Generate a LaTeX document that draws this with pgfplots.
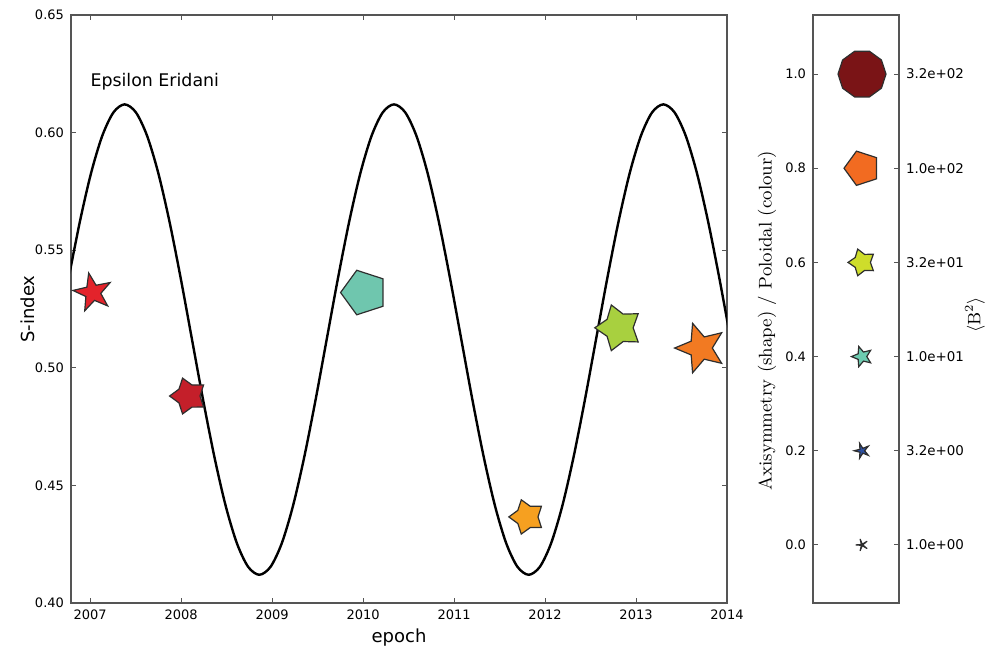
\documentclass[border=0pt]{standalone}
\usepackage{fontspec}
\setmainfont{DejaVu Sans}
\usepackage{pgfplots}
\pgfplotsset{compat=1.18}

\definecolor{cA}{HTML}{E3232B}
\definecolor{cB}{HTML}{C41F2A}
\definecolor{cC}{HTML}{6FC6AE}
\definecolor{cD}{HTML}{F6A020}
\definecolor{cE}{HTML}{A8D03F}
\definecolor{cF}{HTML}{F27A22}
\definecolor{L1}{HTML}{7A1416}
\definecolor{L2}{HTML}{F26B21}
\definecolor{L3}{HTML}{CEDD2B}
\definecolor{L4}{HTML}{6DCBB0}
\definecolor{L5}{HTML}{2C4FA0}
\definecolor{L6}{HTML}{1F2A55}
\definecolor{edge}{HTML}{2E2E2E}
\definecolor{axgray}{HTML}{555555}

\newcommand\starmark[2]{%
 \pgfpathmoveto{\pgfpointpolar{#2}{\pgfplotmarksize}}%
 \pgfpathlineto{\pgfpointpolar{\the\numexpr#2+36\relax}{#1\pgfplotmarksize}}%
 \pgfpathlineto{\pgfpointpolar{\the\numexpr#2+72\relax}{\pgfplotmarksize}}%
 \pgfpathlineto{\pgfpointpolar{\the\numexpr#2+108\relax}{#1\pgfplotmarksize}}%
 \pgfpathlineto{\pgfpointpolar{\the\numexpr#2+144\relax}{\pgfplotmarksize}}%
 \pgfpathlineto{\pgfpointpolar{\the\numexpr#2+180\relax}{#1\pgfplotmarksize}}%
 \pgfpathlineto{\pgfpointpolar{\the\numexpr#2+216\relax}{\pgfplotmarksize}}%
 \pgfpathlineto{\pgfpointpolar{\the\numexpr#2+252\relax}{#1\pgfplotmarksize}}%
 \pgfpathlineto{\pgfpointpolar{\the\numexpr#2+288\relax}{\pgfplotmarksize}}%
 \pgfpathlineto{\pgfpointpolar{\the\numexpr#2+324\relax}{#1\pgfplotmarksize}}%
 \pgfpathclose
 \pgfusepathqfillstroke}

\pgfdeclareplotmark{mA}{\starmark{0.40}{102}}
\pgfdeclareplotmark{mB}{\starmark{0.62}{180}}
\pgfdeclareplotmark{mC}{\starmark{0.809}{180}}
\pgfdeclareplotmark{mD}{\starmark{0.62}{180}}
\pgfdeclareplotmark{mE}{\starmark{0.60}{180}}
\pgfdeclareplotmark{mF}{\starmark{0.45}{180}}
\pgfdeclareplotmark{l1}{\starmark{1}{0}}
\pgfdeclareplotmark{l2}{\starmark{0.809}{180}}
\pgfdeclareplotmark{l3}{\starmark{0.60}{180}}
\pgfdeclareplotmark{l4}{\starmark{0.45}{180}}
\pgfdeclareplotmark{l5}{\starmark{0.33}{180}}
\pgfdeclareplotmark{l6}{\starmark{0.12}{180}}

\pgfplotstableread{
t S
2006.7633 0.5379
2006.8867 0.5620
2007.0100 0.5827
2007.1333 0.5986
2007.2567 0.6086
2007.3800 0.6120
2007.5033 0.6086
2007.6267 0.5986
2007.7500 0.5827
2007.8733 0.5620
2007.9967 0.5379
2008.1200 0.5120
2008.2433 0.4861
2008.3667 0.4620
2008.4900 0.4413
2008.6133 0.4254
2008.7367 0.4154
2008.8600 0.4120
2008.9833 0.4154
2009.1067 0.4254
2009.2300 0.4413
2009.3533 0.4620
2009.4767 0.4861
2009.6000 0.5120
2009.7233 0.5379
2009.8467 0.5620
2009.9700 0.5827
2010.0933 0.5986
2010.2167 0.6086
2010.3400 0.6120
2010.4633 0.6086
2010.5867 0.5986
2010.7100 0.5827
2010.8333 0.5620
2010.9567 0.5379
2011.0800 0.5120
2011.2033 0.4861
2011.3267 0.4620
2011.4500 0.4413
2011.5733 0.4254
2011.6967 0.4154
2011.8200 0.4120
2011.9433 0.4154
2012.0667 0.4254
2012.1900 0.4413
2012.3133 0.4620
2012.4367 0.4861
2012.5600 0.5120
2012.6833 0.5379
2012.8067 0.5620
2012.9300 0.5827
2013.0533 0.5986
2013.1767 0.6086
2013.3000 0.6120
2013.4233 0.6086
2013.5467 0.5986
2013.6700 0.5827
2013.7933 0.5620
2013.9167 0.5379
2014.0400 0.5120
}\cycle

\begin{document}
\begin{tikzpicture}
\useasboundingbox (-35.5pt,-23.5pt) rectangle (457.5pt,301.5pt);

\begin{axis}[
  at={(0pt,0pt)}, anchor=south west,
  scale only axis, width=328pt, height=294pt,
  xmin=2006.79, xmax=2014, ymin=0.40, ymax=0.65,
  xtick={2007,2008,2009,2010,2011,2012,2013,2014},
  xticklabels={2007,2008,2009,2010,2011,2012,2013,2014},
  ytick={0.40,0.45,0.50,0.55,0.60,0.65},
  yticklabels={0.40,0.45,0.50,0.55,0.60,0.65},
  tick pos=both, tick align=inside, major tick length=2.5pt,
  ticklabel style={font=\fontsize{6.5}{7.8}\selectfont, text=black},
  axis line style={line width=0.7pt, draw=axgray},
  tick style={line width=0.5pt, draw=axgray},
  xlabel={epoch}, ylabel={S-index},
  label style={font=\fontsize{9}{10.8}\selectfont},
  xlabel style={at={(rel axis cs:0.5,-0.058)}, anchor=center},
  ylabel style={at={(rel axis cs:-0.0655,0.5)}, anchor=center},
]
\addplot[black, line width=1.2pt, smooth, no marks] table[x=t, y=S] {\cycle};
\node[anchor=base west, inner sep=0pt, font=\fontsize{8.7}{10}\selectfont] at (axis cs:2007,0.6198) {Epsilon Eridani};
\addplot[only marks, mark=mA, mark size=10pt, mark options={fill=cA, draw=edge, line width=0.6pt, line join=miter}] coordinates {(2007.03,0.532)};
\addplot[only marks, mark=mB, mark size=9.4pt, mark options={fill=cB, draw=edge, line width=0.6pt, line join=miter}] coordinates {(2008.08,0.488)};
\addplot[only marks, mark=mC, mark size=11.7pt, mark options={fill=cC, draw=edge, line width=0.6pt, line join=miter}] coordinates {(2010.01,0.532)};
\addplot[only marks, mark=mD, mark size=9pt, mark options={fill=cD, draw=edge, line width=0.6pt, line join=miter}] coordinates {(2011.80,0.4366)};
\addplot[only marks, mark=mE, mark size=12pt, mark options={fill=cE, draw=edge, line width=0.6pt, line join=miter}] coordinates {(2012.81,0.517)};
\addplot[only marks, mark=mF, mark size=13pt, mark options={fill=cF, draw=edge, line width=0.6pt, line join=miter}] coordinates {(2013.71,0.5084)};
\end{axis}

\begin{axis}[
  at={(371pt,0pt)}, anchor=south west,
  scale only axis, width=43pt, height=294pt,
  xmin=0, xmax=1, ymin=-0.1234, ymax=1.1255,
  xtick=\empty,
  ytick={0,0.2,0.4,0.6,0.8,1.0},
  yticklabels={0.0,0.2,0.4,0.6,0.8,1.0},
  ytick pos=both, yticklabel pos=left, tick align=inside, major tick length=2.5pt,
  ticklabel style={font=\fontsize{6.5}{7.8}\selectfont, text=black},
  axis line style={line width=0.7pt, draw=axgray},
  tick style={line width=0.5pt, draw=axgray},
  ylabel={Axisymmetry (shape) / Poloidal (colour)},
  ylabel style={at={(rel axis cs:-0.535,0.48)}, anchor=center, font=\fontfamily{lmr}\fontsize{9.2}{11}\selectfont},
]
\addplot[only marks, mark=l1, mark size=12pt, mark options={fill=L1, draw=edge, line width=0.6pt, line join=miter}] coordinates {(0.57,1.0)};
\addplot[only marks, mark=l2, mark size=9pt, mark options={fill=L2, draw=edge, line width=0.6pt, line join=miter}] coordinates {(0.57,0.8)};
\addplot[only marks, mark=l3, mark size=7pt, mark options={fill=L3, draw=edge, line width=0.6pt, line join=miter}] coordinates {(0.57,0.6)};
\addplot[only marks, mark=l4, mark size=5.3pt, mark options={fill=L4, draw=edge, line width=0.6pt, line join=miter}] coordinates {(0.57,0.4)};
\addplot[only marks, mark=l5, mark size=3.9pt, mark options={fill=L5, draw=edge, line width=0.6pt, line join=miter}] coordinates {(0.57,0.2)};
\addplot[only marks, mark=l6, mark size=3pt, mark options={fill=L6, draw=edge, line width=0.6pt, line join=round}] coordinates {(0.57,0.0)};
\end{axis}

\begin{axis}[
  at={(371pt,0pt)}, anchor=south west,
  scale only axis, width=43pt, height=294pt,
  xmin=0, xmax=1, ymin=-0.1234, ymax=1.1255,
  xtick=\empty,
  ytick={0,0.2,0.4,0.6,0.8,1.0},
  yticklabels={1.0e+00,3.2e+00,1.0e+01,3.2e+01,1.0e+02,3.2e+02},
  yticklabel pos=right, ytick style={draw=none},
  axis line style={draw=none},
  ticklabel style={font=\fontsize{6.7}{8}\selectfont, text=black},
  ylabel={$\langle$B$^{2}$$\rangle$},
  ylabel style={at={(rel axis cs:1.884,0.49)}, anchor=center, font=\fontfamily{lmr}\fontsize{9}{11}\selectfont},
]
\end{axis}
\end{tikzpicture}
\end{document}
